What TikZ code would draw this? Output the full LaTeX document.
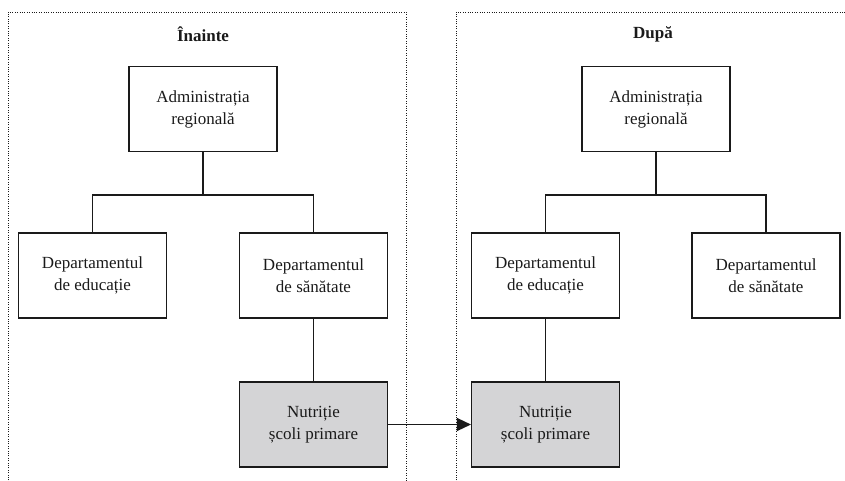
\documentclass[tikz,border=0pt]{standalone}
\usepackage{fontspec}
\setmainfont{Liberation Serif}
\usetikzlibrary{arrows.meta}
\definecolor{boxgray}{HTML}{D4D4D6}
\definecolor{ink}{HTML}{1A1A1A}
\tikzset{
  unit/.style={draw=ink, line width=1.1pt, minimum width=148pt, minimum height=85pt, inner sep=0pt,
    align=center, text=ink, font=\fontsize{17}{22}\selectfont},
  moved/.style={unit, fill=boxgray},
  frame/.style={draw=ink, line width=1pt, dash pattern=on 1pt off 1.4pt},
  link/.style={draw=ink, line width=1.1pt},
  title/.style={text=ink, font=\fontsize{17}{22}\selectfont\bfseries},
}
\begin{document}
\begin{tikzpicture}[x=1pt,y=-1pt]
\useasboundingbox (0,0) rectangle (845,480);
% frames
\draw[frame] (8,490) -- (8,12) -- (406,12) -- (406,490);
\draw[frame] (456,490) -- (456,12) -- (855,12);
\node[title] (tL) at (203,34) {Înainte};
\node[title] (tR) at (653,34) {După};
% left
\node[unit] (admL) at (203,109) {Administrația\\regională};
\node[unit] (eduL) at (92.5,275.5) {Departamentul\\de educație};
\node[unit] (sanL) at (313.5,275.5) {Departamentul\\de sănătate};
\node[moved] (nutL) at (313.5,424.5) {Nutriție\\școli primare};
\coordinate (jL) at (203,195);
\draw[link] (admL.south) -- (jL);
\draw[link] (eduL.north) |- (jL) -| (sanL.north);
\draw[link] (sanL.south) -- (nutL.north);
% right
\node[unit] (admR) at (656,109) {Administrația\\regională};
\node[unit] (eduR) at (545.5,275.5) {Departamentul\\de educație};
\node[unit] (sanR) at (766,275.5) {Departamentul\\de sănătate};
\node[moved] (nutR) at (545.5,424.5) {Nutriție\\școli primare};
\coordinate (jR) at (656,195);
\draw[link] (admR.south) -- (jR);
\draw[link] (eduR.north) |- (jR) -| (sanR.north);
\draw[link] (eduR.south) -- (nutR.north);
% move arrow
\draw[draw=ink, line width=1.4pt, -{Triangle[length=14pt,width=13pt]}] (nutL.east) -- (nutR.west);
\end{tikzpicture}
\end{document}
